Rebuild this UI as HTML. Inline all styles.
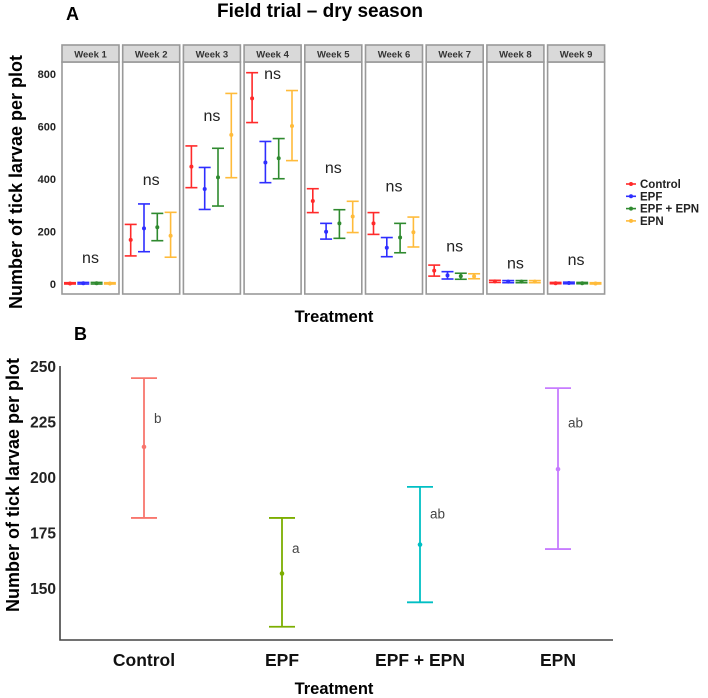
<!DOCTYPE html>
<html><head><meta charset="utf-8"><style>
html,body{margin:0;padding:0;background:#fff;}
svg{display:block;font-family:"Liberation Sans",Arial,sans-serif;}
</style></head><body>
<svg id="chart" width="708" height="698" viewBox="0 0 708 698" xmlns="http://www.w3.org/2000/svg">
<text x="66" y="20" font-size="18" font-weight="bold">A</text>
<text x="320" y="17" font-size="19" font-weight="bold" text-anchor="middle">Field trial – dry season</text>
<text transform="translate(22,182) rotate(-90)" font-size="18" font-weight="bold" text-anchor="middle">Number of tick larvae per plot</text>
<text x="334" y="322" font-size="16.5" font-weight="bold" text-anchor="middle">Treatment</text>
<g id="gA"></g>
<g id="legend"></g>
<text x="74" y="340" font-size="18" font-weight="bold">B</text>
<text transform="translate(19,485) rotate(-90)" font-size="18" font-weight="bold" text-anchor="middle">Number of tick larvae per plot</text>
<text x="334" y="694" font-size="16.5" font-weight="bold" text-anchor="middle">Treatment</text>
<g id="gB"></g>
</svg>
<script>
const weeks=["Week 1","Week 2","Week 3","Week 4","Week 5","Week 6","Week 7","Week 8","Week 9"];
const treatments=["Control","EPF","EPF + EPN","EPN"];
const yTicksA=[0,200,400,600,800];
const meanControl=[2,168,447,707,316,231,51,10,3];
const loControl=[0,107,367,615,272,189,30,6,1];
const hiControl=[5,227,526,805,363,272,72,14,6];
const meanEPF=[3,212,362,463,199,138,33,9,4];
const loEPF=[0,123,284,386,171,104,19,5,1];
const hiEPF=[6,305,444,543,231,177,47,13,7];
const meanEE=[3,216,406,479,231,177,30,9,3];
const loEE=[0,165,297,401,174,119,18,5,1];
const hiEE=[6,269,517,554,283,231,41,13,6];
const meanEPN=[2,184,568,602,257,197,29,9,2];
const loEPN=[0,102,405,470,196,141,20,5,0];
const hiEPN=[5,273,726,737,315,255,39,13,5];
const nsY=[100,396,640,800,441,371,142,79,91];
const catsB=["Control","EPF","EPF + EPN","EPN"];
const meanB=[214,157,170,204];
const loB=[182,133,144,168];
const hiB=[245,182,196,240.5];
const lettersB=["b","a","ab","ab"];
const letterYB=[227,168.5,184,225];
const yTicksB=[150,175,200,225,250];

const SVGNS="http://www.w3.org/2000/svg";
function mk(p,t,a,txt){const e=document.createElementNS(SVGNS,t);for(const k in a)e.setAttribute(k,a[k]);if(txt!==undefined)e.textContent=txt;p.appendChild(e);return e;}
const colorsA=["#ff2a2a","#2e2eff","#2f8a2f","#ffbb3a"];
const seriesA=[[meanControl,loControl,hiControl],[meanEPF,loEPF,hiEPF],[meanEE,loEE,hiEE],[meanEPN,loEPN,hiEPN]];
const gA=document.getElementById('gA');
const yA=v=>284-v*(210/800);
const px0=62,pitch=60.7,pw=57,topA=45,strip=17,botA=294;
yTicksA.forEach(t=>{
  const e=mk(gA,'text',{x:56,y:yA(t)+4,'font-size':11,'font-weight':'bold','text-anchor':'end',fill:'#222'},t);
  
  
});
weeks.forEach((w,i)=>{
  const x=px0+i*pitch;
  const r=mk(gA,'rect',{x:x,y:topA+strip,width:pw,height:botA-topA-strip,fill:'#fff',stroke:'#999','stroke-width':1.6});
  
  
  const s=mk(gA,'rect',{x:x,y:topA,width:pw,height:strip,fill:'#d9d9d9',stroke:'#999','stroke-width':1.6});
  
  
  const st=mk(gA,'text',{x:x+pw/2,y:topA+12.5,'font-size':9.5,'font-weight':'bold','text-anchor':'middle',fill:'#333'},w);
  
  
  seriesA.forEach((s2,j)=>{
    const cx=x+8+j*13.3,c=colorsA[j];
    const g=mk(gA,'g',{stroke:c,'stroke-width':1.6,fill:c});
    
    
    const m=s2[0][i],lo=s2[1][i],hi=s2[2][i];
    mk(g,'line',{x1:cx,x2:cx,y1:yA(lo),y2:yA(hi)});
    mk(g,'line',{x1:cx-6,x2:cx+6,y1:yA(lo),y2:yA(lo)});
    mk(g,'line',{x1:cx-6,x2:cx+6,y1:yA(hi),y2:yA(hi)});
    mk(g,'circle',{cx:cx,cy:yA(m),r:2,stroke:'none'});
  });
  const n=mk(gA,'text',{x:x+pw/2,y:yA(nsY[i])+5,'font-size':16,'text-anchor':'middle',fill:'#222'},'ns');
  
  
});
const lg=document.getElementById('legend');
treatments.forEach((t,j)=>{
  const y=184+j*12.3;
  const g=mk(lg,'g',{});
  
  
  mk(g,'line',{x1:626,x2:636,y1:y,y2:y,stroke:colorsA[j],'stroke-width':1.6});
  mk(g,'circle',{cx:631,cy:y,r:2,fill:colorsA[j]});
  mk(g,'text',{x:640,y:y+4,'font-size':11.5,'font-weight':'bold',fill:'#222'},t);
});
const gB=document.getElementById('gB');
const colorsB=["#f8766d","#7cae00","#00bfc4","#c77cff"];
const yB=v=>367+(250-v)*2.22;
const xB=i=>144+i*138;
const ax=mk(gB,'path',{d:'M60,366 V640 H613',fill:'none',stroke:'#444','stroke-width':1.6});


yTicksB.forEach(t=>{
  const e=mk(gB,'text',{x:56,y:yB(t)+5,'font-size':15.5,'font-weight':'bold','text-anchor':'end',fill:'#222'},t);
  
  
});
catsB.forEach((c,i)=>{
  const x=xB(i);
  const e=mk(gB,'text',{x:x,y:666,'font-size':17.5,'font-weight':'bold','text-anchor':'middle',fill:'#111'},c);
  
  
  const g=mk(gB,'g',{stroke:colorsB[i],'stroke-width':1.8,fill:colorsB[i]});
  
  
  mk(g,'line',{x1:x,x2:x,y1:yB(loB[i]),y2:yB(hiB[i])});
  mk(g,'line',{x1:x-13,x2:x+13,y1:yB(loB[i]),y2:yB(loB[i])});
  mk(g,'line',{x1:x-13,x2:x+13,y1:yB(hiB[i]),y2:yB(hiB[i])});
  mk(g,'circle',{cx:x,cy:yB(meanB[i]),r:2.3,stroke:'none'});
  const l=mk(gB,'text',{x:x+10,y:yB(letterYB[i])+5,'font-size':13.5,fill:'#444'},lettersB[i]);
  
  
});
</script>
</body></html>
